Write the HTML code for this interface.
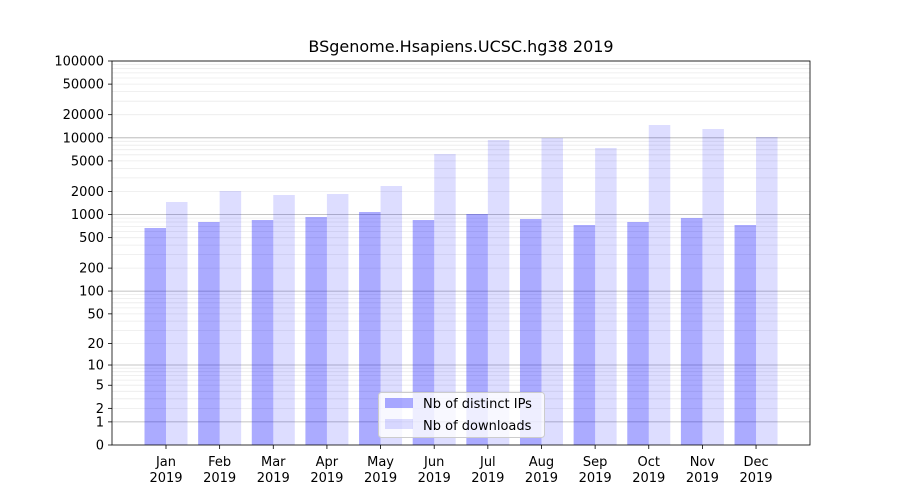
<!DOCTYPE html>
<html><head><meta charset="utf-8"><style>
html,body{margin:0;padding:0;background:#fff;width:900px;height:500px;overflow:hidden}
svg{display:block;font-family:"DejaVu Sans","Liberation Sans",sans-serif}
</style></head><body>
<svg id="s" width="900" height="500" xmlns="http://www.w3.org/2000/svg"></svg>
<script>
const s=document.getElementById('s');
let h='';
const L=112,R=810,T=61,B=445,k=76.8;
const Y=v=>B-k*Math.log10(v+1);
// grid
for(let d=1;d<=100000;d*=10){
  for(let m=1;m<10;m++){
    const v=d*m; if(v>100000)break;
    const y=Y(v).toFixed(1);
    if(m==1) h+=`<line x1="${L}" x2="${R}" y1="${y}" y2="${y}" stroke="#b0b0b0" stroke-width="0.8"/>`;
    else h+=`<line x1="${L}" x2="${R}" y1="${y}" y2="${y}" stroke="#ebebeb" stroke-width="0.8"/>`;
  }
}
const tops=[[228,202],[222,191],[220,195],[217,194],[212,186],[220,154],[214,140],[219,138],[225,148],[222,125],[218,129],[225,137]];
const mon=['Jan','Feb','Mar','Apr','May','Jun','Jul','Aug','Sep','Oct','Nov','Dec'];
tops.forEach((t,i)=>{
  const c=166+i*53.64;
  h+=`<rect x="${c-21.5}" y="${t[0]}" width="21.5" height="${B-t[0]}" fill="blue" fill-opacity="0.33"/>`;
  h+=`<rect x="${c}" y="${t[1]}" width="21.5" height="${B-t[1]}" fill="blue" fill-opacity="0.135"/>`;
  h+=`<line x1="${c}" x2="${c}" y1="${B}" y2="${B+4}" stroke="#000" stroke-width="0.8"/>`;
  h+=`<text x="${c}" y="466" font-size="13" text-anchor="middle">${mon[i]}</text>`;
  h+=`<text x="${c}" y="482" font-size="13" text-anchor="middle">2019</text>`;
});
const yt=[0,1,2,5,10,20,50,100,200,500,1000,2000,5000,10000,20000,50000,100000];
yt.forEach(v=>{const y=Y(v);
  h+=`<line x1="${L-4}" x2="${L}" y1="${y}" y2="${y}" stroke="#000" stroke-width="0.8"/>`;
  h+=`<text x="${L-8}" y="${y+4.5}" font-size="13" text-anchor="end">${v}</text>`;});
h+=`<rect x="${L}" y="${T}" width="${R-L}" height="${B-T}" fill="none" stroke="#000" stroke-width="0.8"/>`;
h+=`<text x="461" y="52" font-size="16" text-anchor="middle">BSgenome.Hsapiens.UCSC.hg38 2019</text>`;
// legend
h+=`<rect x="378.5" y="392.5" width="166" height="45" rx="3" fill="#fff" fill-opacity="0.8" stroke="#ccc"/>`;
h+=`<rect x="385" y="398" width="28" height="10" fill="blue" fill-opacity="0.33"/>`;
h+=`<text x="423" y="408" font-size="13">Nb of distinct IPs</text>`;
h+=`<rect x="385" y="419" width="28" height="10" fill="blue" fill-opacity="0.135"/>`;
h+=`<text x="423" y="430" font-size="13">Nb of downloads</text>`;
s.innerHTML=h;
</script>
</body></html>
